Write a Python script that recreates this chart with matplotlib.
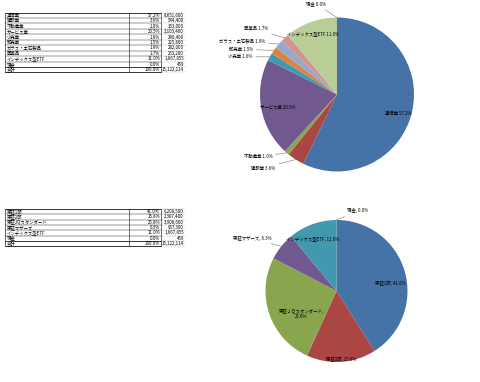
import matplotlib as mpl
mpl.use('Agg')
import matplotlib.pyplot as plt

plt.rcParams['font.family'] = ['Noto Sans CJK JP', 'DejaVu Sans']

# industry breakdown
ind_names = ['通信業', '建設業', '不動産業', 'サービス業', '小売業', '卸売業',
             'ガラス・土石製品', '医薬品', 'インデックス型ETF', '現金']
ind_values = [8651600, 544400, 153000, 3103400, 240400, 225800,
              282000, 253200, 1667855, 459]

# market breakdown
mkt_names = ['東証1部', '東証2部', '東証JQスタンダード', '東証マザーズ',
             'インデックス型ETF', '現金']
mkt_labels = ['東証1部', '東証2部', '東証ＪＱスタンダード', '東証マザーズ',
              'インデックス型ETF', '現金']
mkt_values = [6200500, 2387400, 3908600, 957300, 1667855, 459]

ind_colors = ['#4572A7', '#AA4643', '#89A54E', '#71588F', '#4198AF',
              '#DB843D', '#93A9CF', '#D19392', '#B9CD96', '#A99BBD']
mkt_colors = ['#4572A7', '#AA4643', '#89A54E', '#71588F', '#4198AF', '#DB843D']

FS = 3.2
W, H = 480, 382
fig = plt.figure(figsize=(W / 100, H / 100), dpi=100)

# overlay in pixel coords for the tables
bg = fig.add_axes([0, 0, 1, 1])
bg.set_xlim(0, W)
bg.set_ylim(H, 0)
bg.axis('off')


def draw_table(names, values, top, rh):
    total = sum(values)
    rows = [(n, '%.1f%%' % (v / total * 100), '{:,}'.format(v))
            for n, v in zip(names, values)]
    rows.append(('合計', '100.0%', '{:,}'.format(total)))
    x0, x1, x2, x3 = 5, 129, 161, 185
    n = len(rows)
    for i in range(n + 1):
        y = top + i * rh
        lw = 0.7 if i in (0, n - 1, n) else 0.35
        bg.plot([x0, x2], [y, y], color='#333333', lw=lw)
        bg.plot([x2, x3], [y, y], color='#bbbbbb', lw=0.3)
    for x in (x0, x1, x2):
        bg.plot([x, x], [top, top + n * rh], color='#333333', lw=0.5)
    for i, (a, b, c) in enumerate(rows):
        y = top + (i + 0.5) * rh
        bg.text(x0 + 1.5, y, a, fontsize=FS, ha='left', va='center')
        bg.text(x2 - 1, y, b, fontsize=FS, ha='right', va='center')
        bg.text(x3 - 1, y, c, fontsize=FS, ha='right', va='center')


draw_table(ind_names, ind_values, 12.5, 5.45)
draw_table(mkt_names, mkt_values, 209, 5.3)


def pie_axes(cx, cy, r):
    ax = fig.add_axes([(cx - r) / W, 1 - (cy + r) / H, 2 * r / W, 2 * r / H])
    return ax


def draw_pie(ax, values, colors, texts, layout):
    wedges, _ = ax.pie(values, colors=colors, startangle=90,
                       counterclock=False, radius=1,
                       wedgeprops=dict(linewidth=0))
    ax.set_xlim(-1, 1)
    ax.set_ylim(-1, 1)
    ax.set_aspect('auto')
    ax.axis('off')
    import numpy as np
    for w, t, (lx, ly, ha, lead) in zip(wedges, texts, layout):
        mid = np.deg2rad((w.theta1 + w.theta2) / 2)
        if lead:
            ax.annotate(t, xy=(np.cos(mid), np.sin(mid)), xytext=(lx, ly),
                        fontsize=FS, ha=ha, va='center',
                        annotation_clip=False,
                        arrowprops=dict(arrowstyle='-', color='#777777',
                                        lw=0.4, shrinkA=0.5, shrinkB=0))
        else:
            ax.text(lx, ly, t, fontsize=FS, ha=ha, va='center',
                    multialignment='center', clip_on=False)


ind_total = sum(ind_values)
ind_texts = ['%s %.1f%%' % (n, v / ind_total * 100)
             for n, v in zip(ind_names, ind_values)]
# label placement in pie units: x, y, alignment, leader line
ind_layout = [
    (0.79, -0.24, 'center', False),
    (-0.80, -0.955, 'right', True),
    (-0.84, -0.81, 'right', True),
    (-0.77, -0.16, 'center', False),
    (-1.10, 0.49, 'right', True),
    (-1.09, 0.59, 'right', True),
    (-0.935, 0.695, 'right', True),
    (-0.896, 0.851, 'right', True),
    (-0.31, 0.79, 'center', False),
    (-0.27, 1.175, 'center', True),
]
ax1 = pie_axes(337, 94.5, 77)
draw_pie(ax1, ind_values, ind_colors, ind_texts, ind_layout)

mkt_total = sum(mkt_values)
mkt_texts = ['%s, %.1f%%' % (n, v / mkt_total * 100)
             for n, v in zip(mkt_labels, mkt_values)]
mkt_texts[2] = mkt_texts[2].replace(', ', ',\n')
mkt_layout = [
    (0.76, 0.10, 'center', False),
    (0.07, -0.958, 'center', False),
    (-0.50, -0.324, 'center', False),
    (-0.92, 0.746, 'right', True),
    (-0.33, 0.73, 'center', False),
    (0.148, 1.127, 'left', True),
]
ax2 = pie_axes(336.5, 291, 71)
draw_pie(ax2, mkt_values, mkt_colors, mkt_texts, mkt_layout)

fig.savefig('out.png', dpi=100)
